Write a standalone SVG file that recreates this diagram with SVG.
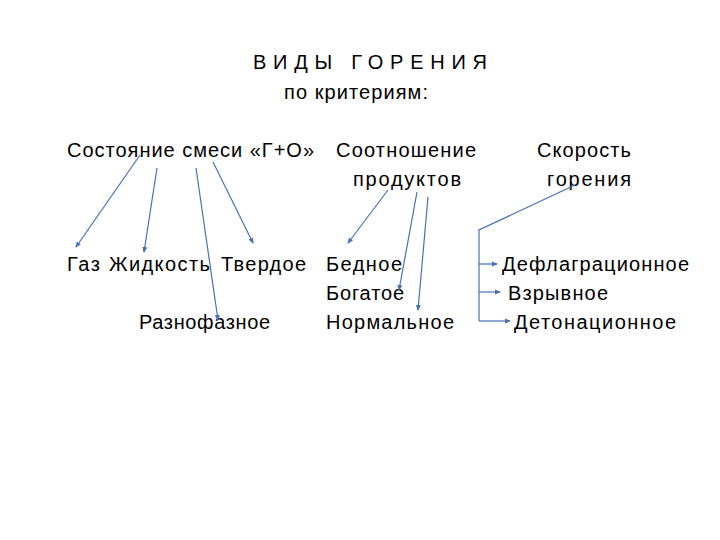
<svg xmlns="http://www.w3.org/2000/svg" width="720" height="540" viewBox="0 0 720 540">
<defs>
<marker id="a" markerWidth="6" markerHeight="6" refX="5" refY="3" orient="auto" markerUnits="userSpaceOnUse"><path d="M0,0.5 L6,3 L0,5.5 z" fill="#4a70b0"/></marker>
<style>
text{font-family:"Liberation Sans",Arial,sans-serif;font-size:20px;fill:#000}
.c line,.c polyline{stroke:#4a70b0;stroke-width:1.2;fill:none}
.e{marker-end:url(#a)}
</style>
</defs>
<rect width="720" height="540" fill="#fff"/>
<g id="title"><text x="253" y="69" textLength="234" lengthAdjust="spacing">ВИДЫ   ГОРЕНИЯ</text><text x="284" y="99" textLength="144">по критериям:</text></g>
<g id="state"><text x="67" y="157" textLength="247">Состояние смеси  «Г+О»</text></g>
<g id="ratio"><text x="336" y="157" textLength="140">Соотношение</text><text x="353" y="186" textLength="108">продуктов</text></g>
<g id="speed"><text x="537" y="157" textLength="94">Скорость</text><text x="547" y="186" textLength="84">горения</text></g>
<g id="gas"><text x="67" y="271" textLength="33">Газ</text></g>
<g id="liquid"><text x="109" y="271" textLength="101">Жидкость</text></g>
<g id="solid"><text x="221" y="271" textLength="85">Твердое</text></g>
<g id="multi"><text x="139" y="329" textLength="131">Разнофазное</text></g>
<g id="poor"><text x="326" y="271" textLength="76">Бедное</text></g>
<g id="rich"><text x="326" y="300" textLength="78">Богатое</text></g>
<g id="normal"><text x="326" y="329" textLength="128">Нормальное</text></g>
<g id="defl"><text x="502" y="271" textLength="187">Дефлаграционное</text></g>
<g id="expl"><text x="508" y="300" textLength="100">Взрывное</text></g>
<g id="deton"><text x="514" y="329" textLength="162">Детонационное</text></g>
<g class="c">
<line class="e" x1="140" y1="155" x2="76" y2="247"/>
<line class="e" x1="157" y1="168" x2="144" y2="252"/>
<line class="e" x1="196" y1="168" x2="218" y2="320"/>
<line class="e" x1="213" y1="162" x2="253" y2="243"/>
<line class="e" x1="388" y1="190" x2="348" y2="243"/>
<line class="e" x1="417" y1="192" x2="399" y2="290"/>
<line class="e" x1="428" y1="197" x2="418" y2="310"/>
<polyline points="575,185 479,230 479,321"/>
<line class="e" x1="479" y1="264" x2="497" y2="264"/>
<line class="e" x1="479" y1="292" x2="500" y2="292"/>
<line class="e" x1="479" y1="321" x2="510" y2="321"/>
</g>
</svg>
